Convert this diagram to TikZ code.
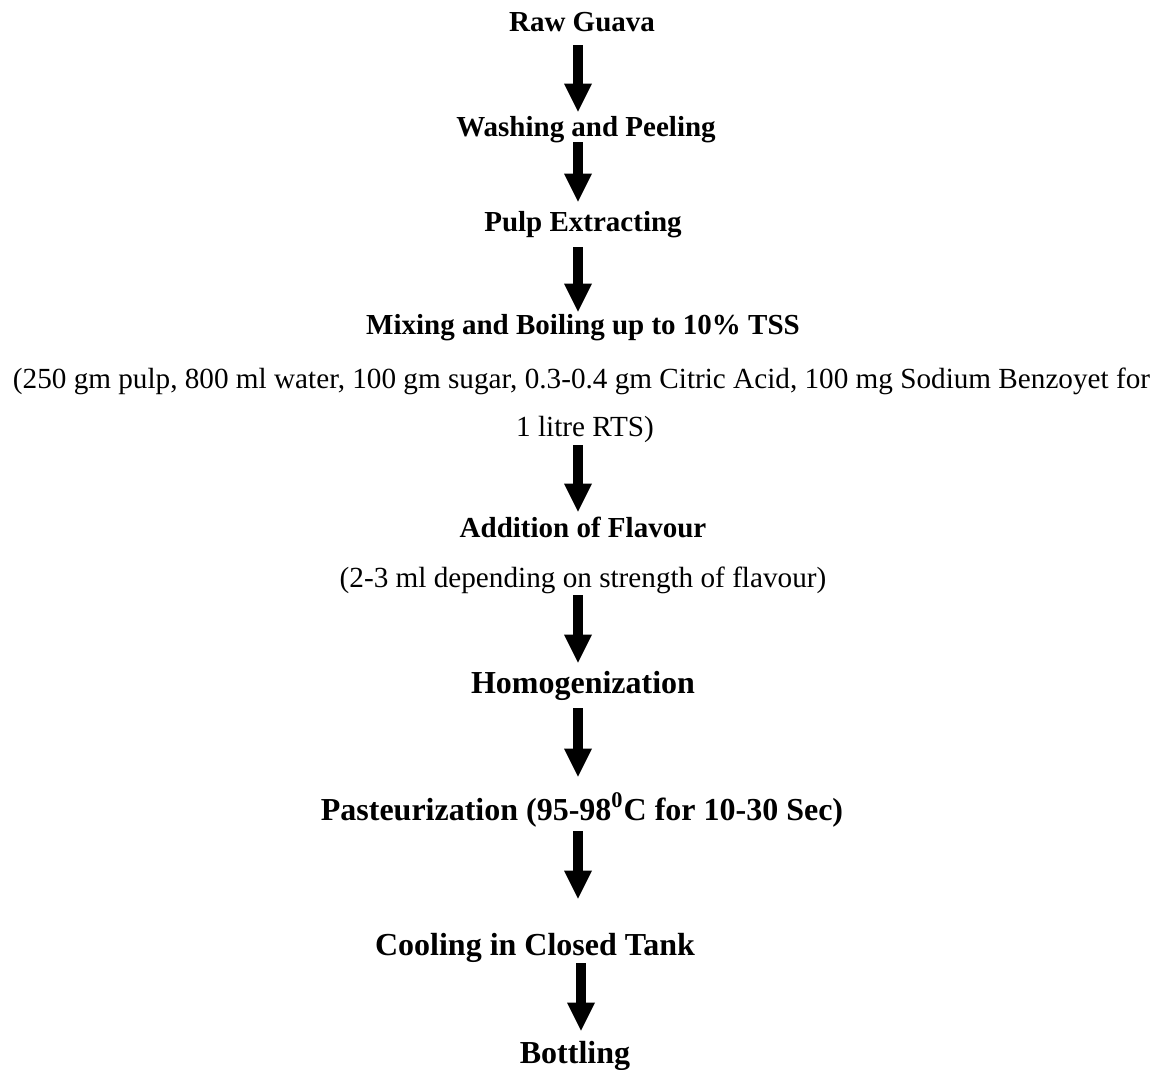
\documentclass[tikz,border=0pt]{standalone}
\usepackage{fontspec}
\setmainfont{Liberation Serif}
\usetikzlibrary{arrows.meta,positioning,calc}
\tikzset{
        stepbox/.style = {inner sep=0pt,
            text height=10.5pt,
            text depth=3.5pt,
            font=\fontsize{14.5pt}{17pt}\selectfont\bfseries},
        bigstep/.style = {stepbox,
            font=\fontsize{16pt}{19pt}\selectfont\bfseries},
        note/.style = {inner sep=0pt,
            text height=10.5pt,
            text depth=3.5pt,
            font=\fontsize{14.6pt}{17pt}\selectfont},
        bigarrow/.style = {draw, line width=5pt,
            -{Triangle[length=14pt,width=14pt,line width=0pt]}},
    }
\begin{document}
\begin{tikzpicture}[x=0.5pt, y=-0.5pt]
		\useasboundingbox (0,0) rectangle (1169,1070);
		\coordinate (axis) at (578,0);
		\node[stepbox]  (RawGuava) at (582,25)       {Raw Guava};
		\node[stepbox]  (Washing)[below of=RawGuava, node distance=52.5pt, xshift=2pt]     {Washing and Peeling};
		\node[stepbox]  (Pulp)[below of=Washing, node distance=47.5pt, xshift=-1.5pt]     {Pulp Extracting};
		\node[stepbox]  (Mixing)[below of=Pulp, node distance=51.5pt]     {Mixing and Boiling up to 10\% TSS};
		\node[note]     (MixNoteA)[below of=Mixing, node distance=26.5pt, xshift=-0.75pt]     {(250 gm pulp, 800 ml water, 100 gm sugar, 0.3-0.4 gm Citric Acid, 100 mg Sodium Benzoyet for};
		\node[note]     (MixNoteB)[below of=MixNoteA, node distance=24.5pt, xshift=1.75pt]     {1 litre RTS)};
		\node[stepbox]  (Flavour)[below of=MixNoteB, node distance=50pt, xshift=-1pt]     {Addition of Flavour};
		\node[note]     (FlavNote)[below of=Flavour, node distance=25pt]     {(2-3 ml depending on strength of flavour)};
		\node[bigstep]  (Homogen)[below of=FlavNote, node distance=53pt]     {Homogenization};
		\node[bigstep]  (Pasteur)[below of=Homogen, node distance=63.5pt, xshift=-0.5pt]     {Pasteurization (95-98\textsuperscript{0}C for 10-30 Sec)};
		\node[bigstep]  (Cooling)[below of=Pasteur, node distance=67.5pt, xshift=-23.5pt]     {Cooling in Closed Tank};
		\node[bigstep]  (Bottling)[below of=Cooling, node distance=54pt, xshift=20pt]     {Bottling};
		\draw[bigarrow, shorten <=3pt, shorten >=2pt]      (RawGuava.south -| axis) -- (Washing.north -| axis);
		\draw[bigarrow, shorten <=-1pt, shorten >=4.5pt]   (Washing.south -| axis) -- (Pulp.north -| axis);
		\draw[bigarrow, shorten <=4pt, shorten >=1pt]      (Pulp.south -| axis) -- (Mixing.north -| axis);
		\draw[bigarrow, shorten <=0.5pt, shorten >=2pt]    (MixNoteB.south -| axis) -- (Flavour.north -| axis);
		\draw[bigarrow, shorten <=0.5pt, shorten >=4.5pt]  (FlavNote.south -| axis) -- (Homogen.north -| axis);
		\draw[bigarrow, shorten <=4pt, shorten >=11pt]     (Homogen.south -| axis) -- (Pasteur.north -| axis);
		\draw[bigarrow, shorten <=2pt, shorten >=17.5pt]   (Pasteur.south -| axis) -- (Cooling.north -| axis);
		\draw[bigarrow, shorten <=0.5pt, shorten >=5.5pt]  ([xshift=1.5pt]Cooling.south -| axis) -- ([xshift=1.5pt]Bottling.north -| axis);
\end{tikzpicture}
\end{document}
